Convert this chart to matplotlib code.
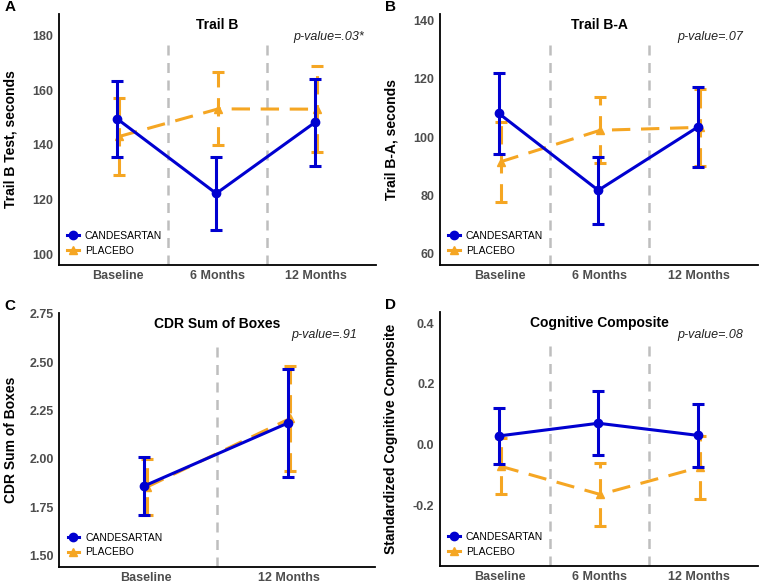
import matplotlib
matplotlib.use('Agg')
import matplotlib.pyplot as plt
from matplotlib.lines import Line2D
import numpy as np

plt.rcParams['font.family'] = ['Liberation Sans', 'DejaVu Sans']

# visits per panel
visits3 = ['Baseline', '6 Months', '12 Months']
visits2 = ['Baseline', '12 Months']

# Trail B (seconds)
trailb_cand = [149.5, 122.2, 148.3]
trailb_cand_err = [14.0, 13.5, 16.0]
trailb_plac = [143.1, 153.2, 153.1]
trailb_plac_err = [14.0, 13.4, 15.7]

# Trail B-A (seconds)
trailba_cand = [108.2, 81.8, 103.5]
trailba_cand_err = [14.0, 11.5, 13.8]
trailba_plac = [91.6, 102.4, 103.4]
trailba_plac_err = [13.8, 11.3, 13.2]

# CDR sum of boxes
cdr_cand = [1.86, 2.185]
cdr_cand_err = [0.15, 0.28]
cdr_plac = [1.855, 2.21]
cdr_plac_err = [0.145, 0.27]

# cognitive composite
cog_cand = [0.028, 0.070, 0.030]
cog_cand_err = [0.093, 0.105, 0.105]
cog_plac = [-0.072, -0.165, -0.075]
cog_plac_err = [0.092, 0.103, 0.104]

BLUE = '#0000D0'
ORANGE = '#F5A623'
GRAY_TXT = '#4D4D4D'

fig = plt.figure(figsize=(7.6, 5.81), dpi=100)

panels = [
    # letter, rect, title, ylabel, pval, pval_x, ylim, yticks, fmt, cats, cand, cand_err, plac, plac_err
    ('A', [0.0776, 0.544, 0.4165, 0.432], 'Trail B', 'Trail B Test, seconds', 'p-value=.03*', 0.963,
     (96, 188), [100, 120, 140, 160, 180], '{:.0f}', visits3,
     trailb_cand, trailb_cand_err, trailb_plac, trailb_plac_err),
    ('B', [0.579, 0.544, 0.419, 0.432], 'Trail B-A', 'Trail B-A, seconds', 'p-value=.07', 0.951,
     (56.2, 142.3), [60, 80, 100, 120, 140], '{:.0f}', visits3,
     trailba_cand, trailba_cand_err, trailba_plac, trailba_plac_err),
    ('C', [0.078, 0.0246, 0.4155, 0.4374], 'CDR Sum of Boxes', 'CDR Sum of Boxes', 'p-value=.91', 0.944,
     (1.443, 2.757), [1.5, 1.75, 2.0, 2.25, 2.5, 2.75], '{:.2f}', visits2,
     cdr_cand, cdr_cand_err, cdr_plac, cdr_plac_err),
    ('D', [0.579, 0.0258, 0.419, 0.4377], 'Cognitive Composite', 'Standardized Cognitive Composite', 'p-value=.08', 0.952,
     (-0.401, 0.438), [-0.2, 0.0, 0.2, 0.4], '{:.1f}', visits3,
     cog_cand, cog_cand_err, cog_plac, cog_plac_err),
]

for (letter, rect, title, ylabel, pval, px, ylim, yticks, fmt, cats,
     cand, cand_err, plac, plac_err) in panels:
    ax = fig.add_axes(rect)
    n = len(cats)
    x = np.arange(1, n + 1)

    # dashed separators between visits
    for xv in x[:-1] + 0.5:
        ax.axvline(xv, ymax=0.89, color='#BEBEBE', lw=1.8, ls=(0, (4, 3)), zorder=1)

    ax.errorbar(x - 0.01, cand, yerr=cand_err, color=BLUE, lw=2.2, marker='o', ms=6,
                capsize=4, capthick=2.2, zorder=3)
    eb = ax.errorbar(x + 0.01, plac, yerr=plac_err, color=ORANGE, lw=2.2, marker='^', ms=6,
                     capsize=4, capthick=2.2, ls=(0, (6, 3.5)), zorder=2)
    for b in eb[2]:
        b.set_linestyle((0, (6, 3.5)))

    ax.set_xlim(0.4, n + 0.6)
    ax.set_ylim(*ylim)
    ax.set_xticks(x)
    ax.set_xticklabels(cats)
    ax.set_yticks(yticks)
    ax.set_yticklabels([fmt.format(v) for v in yticks])
    ax.tick_params(length=0, pad=4, labelsize=9, labelcolor=GRAY_TXT)
    ax.tick_params(axis='x', pad=3.5)
    for lab in ax.get_xticklabels() + ax.get_yticklabels():
        lab.set_fontweight('bold')

    for s in ['top', 'right']:
        ax.spines[s].set_visible(False)
    for s in ['left', 'bottom']:
        ax.spines[s].set_linewidth(1.3)

    ax.set_ylabel(ylabel, fontsize=10, fontweight='bold')
    ax.yaxis.set_label_coords(-0.132, 0.5)

    ax.text(0.5, 0.955, title, transform=ax.transAxes, ha='center', va='center',
            fontsize=10, fontweight='bold')
    ax.text(px, 0.91, pval, transform=ax.transAxes, ha='right', va='center',
            fontsize=9, style='italic', color='#222222')

    handles = [Line2D([], [], color=BLUE, marker='o', lw=2.2, ms=6),
               Line2D([], [], color=ORANGE, marker='^', lw=2.2, ms=6)]
    ax.legend(handles, ['CANDESARTAN', 'PLACEBO'], loc='lower left',
              bbox_to_anchor=(0.003, 0.008), frameon=False, fontsize=7.5,
              handlelength=1.1, handletextpad=0.6, labelspacing=0.45, borderaxespad=0.3)

    fig.text(rect[0] - 0.072, rect[1] + rect[3] + 0.012, letter, fontsize=11,
             fontweight='bold', ha='left', va='center')

plt.savefig('out.png', dpi=100)
